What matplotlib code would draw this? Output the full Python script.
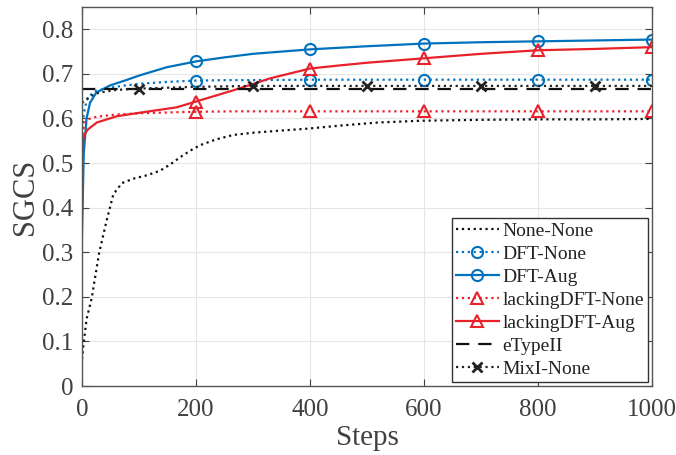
import matplotlib
matplotlib.use('Agg')
import matplotlib.pyplot as plt

plt.rcParams['font.family'] = ['Liberation Serif', 'DejaVu Serif']
plt.rcParams['mathtext.fontset'] = 'stix'

# ---- data ----
steps_nn = [0, 3, 8, 17, 30, 43, 55, 70, 90, 115, 137, 155, 172, 190, 207, 235, 265, 300, 350, 394, 452, 520, 596, 700, 800, 900, 1000]
none_none = [0.06, 0.097, 0.15, 0.197, 0.298, 0.37, 0.43, 0.455, 0.465, 0.473, 0.483, 0.497, 0.513, 0.528, 0.54, 0.553, 0.563, 0.568, 0.573, 0.577, 0.584, 0.591, 0.595, 0.597, 0.598, 0.598, 0.599]

steps_dft = [0, 3, 8, 14, 25, 49, 75, 102, 149, 200, 250, 300, 400, 500, 600, 700, 800, 900, 1000]
dft_aug = [0.34, 0.52, 0.6, 0.635, 0.658, 0.674, 0.685, 0.697, 0.715, 0.728, 0.737, 0.745, 0.755, 0.762, 0.768, 0.771, 0.773, 0.775, 0.777]
dft_none = [0.55, 0.61, 0.64, 0.652, 0.662, 0.669, 0.674, 0.678, 0.682, 0.685, 0.686, 0.686, 0.687, 0.687, 0.687, 0.687, 0.687, 0.687, 0.687]

steps_lack = [0, 2, 5, 10, 26, 61, 107, 166, 200, 265, 330, 400, 452, 500, 600, 700, 800, 900, 1000]
lack_aug = [0.39, 0.555, 0.565, 0.575, 0.591, 0.605, 0.614, 0.625, 0.638, 0.663, 0.69, 0.712, 0.719, 0.725, 0.735, 0.745, 0.753, 0.756, 0.76]
lack_none = [0.55, 0.575, 0.59, 0.598, 0.604, 0.609, 0.612, 0.614, 0.615, 0.616, 0.616, 0.616, 0.616, 0.616, 0.616, 0.616, 0.616, 0.616, 0.616]

steps_mix = [0, 15, 30, 60, 100, 200, 300, 400, 500, 600, 700, 800, 900, 1000]
mix_none = [0.635, 0.65, 0.658, 0.664, 0.667, 0.671, 0.673, 0.673, 0.673, 0.673, 0.673, 0.673, 0.673, 0.673]

etype_steps = [0, 1000]
etype = [0.667, 0.667]

marker_steps = [200, 400, 600, 800, 1000]
mix_marker_steps = [100, 300, 500, 700, 900]

blue = '#0072BD'
red = '#E8212B'
txt = '#404040'

fig = plt.figure(figsize=(6.76, 4.55), dpi=100)
ax = fig.add_axes([0.1213, 0.1516, 0.8432, 0.833])


def marks(xs, at):
    return [xs.index(s) for s in at]


lw = 1.6
ax.plot(steps_nn, none_none, ':', color='#111111', lw=lw, label='None-None')
ax.plot(steps_dft, dft_none, ':', color=blue, lw=lw, marker='o', ms=8, mfc='none', mew=1.5,
        markevery=marks(steps_dft, marker_steps), label='DFT-None')
ax.plot(steps_dft, dft_aug, '-', color=blue, lw=lw, marker='o', ms=8, mfc='none', mew=1.5,
        markevery=marks(steps_dft, marker_steps), label='DFT-Aug')
ax.plot(steps_lack, lack_none, ':', color=red, lw=lw, marker='^', ms=9, mfc='none', mew=1.5,
        markevery=marks(steps_lack, marker_steps), label='lackingDFT-None')
ax.plot(steps_lack, lack_aug, '-', color=red, lw=lw, marker='^', ms=9, mfc='none', mew=1.5,
        markevery=marks(steps_lack, marker_steps), label='lackingDFT-Aug')
ax.plot(etype_steps, etype, '--', color='#111111', lw=lw, dashes=(6, 4), label='eTypeII')
ax.plot(steps_mix, mix_none, ':', color='#222222', lw=lw, marker='x', ms=7, mew=2,
        markevery=marks(steps_mix, mix_marker_steps), label='MixI-None')

ax.set_xlim(0, 1000)
ax.set_ylim(0, 0.85)
ax.set_xticks([0, 200, 400, 600, 800, 1000])
ax.set_yticks([0, 0.1, 0.2, 0.3, 0.4, 0.5, 0.6, 0.7, 0.8])
ax.set_yticklabels(['0', '0.1', '0.2', '0.3', '0.4', '0.5', '0.6', '0.7', '0.8'])
ax.grid(True, color='#e6e6e6', lw=0.8)
ax.set_axisbelow(True)
ax.tick_params(direction='in', top=True, right=True, labelsize=18, colors=txt, length=5)
ax.tick_params(axis='x', pad=9)
ax.tick_params(axis='y', pad=6)
for sp in ax.spines.values():
    sp.set_color('#555555')
    sp.set_linewidth(1.0)

ax.set_xlabel('Steps', fontsize=21, color=txt, labelpad=3)
ax.set_ylabel('SGCS', fontsize=22, color=txt, labelpad=2)

leg = ax.legend(loc='lower right', fontsize=14, handlelength=2.2, handletextpad=0.2,
                labelspacing=0.28, borderpad=0.2, borderaxespad=0.2, fancybox=False,
                framealpha=1, edgecolor='#333333')
for t in leg.get_texts():
    t.set_color('#222222')
leg.get_frame().set_linewidth(1.0)

fig.savefig('out.png', dpi=100)
